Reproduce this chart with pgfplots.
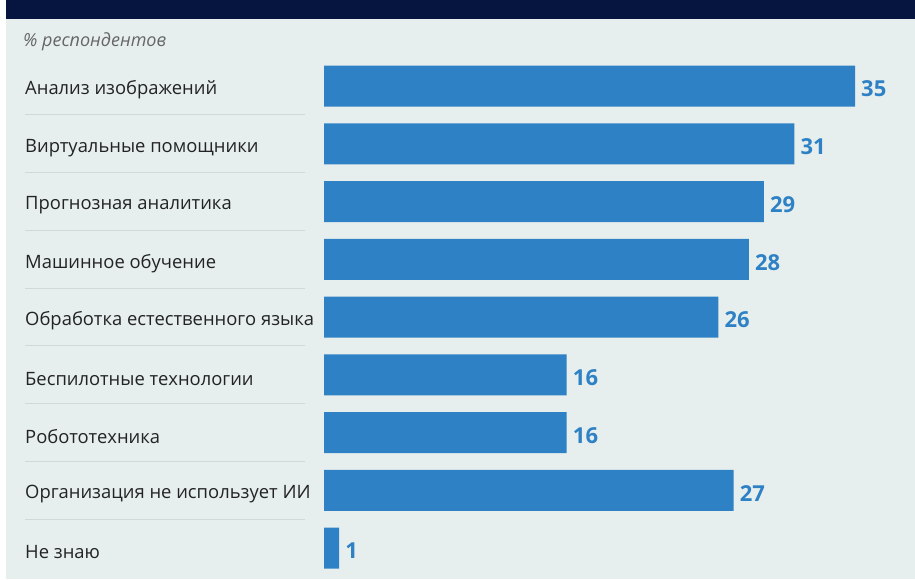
\documentclass[border=0pt]{standalone}
\usepackage{pgfplots}
\pgfplotsset{compat=1.18}
\usepackage{fontspec}
\setmainfont{Open Sans}
\definecolor{bg}{RGB}{230,239,238}
\definecolor{navy}{RGB}{6,20,64}
\definecolor{barblue}{RGB}{46,129,196}
\definecolor{sepc}{RGB}{208,216,216}
\definecolor{lblc}{RGB}{35,35,35}
\begin{document}
\begin{tikzpicture}
\path[use as bounding box, fill=white] (0pt,0pt) rectangle (915pt,579pt);
\fill[bg] (6pt,0pt) rectangle (915pt,560pt);
\fill[navy] (6pt,560pt) rectangle (915pt,579pt);
\node[anchor=west, font=\itshape\fontsize{18}{20}\selectfont, text=black!60, inner sep=0pt] at (23pt,537pt) {\% респондентов};
\foreach \i in {0,...,7} {
  \pgfmathsetmacro{\yy}{579-(86+57.75*(\i+0.5))}
  \draw[sepc, line width=0.8pt] (25pt,\yy pt) -- (305pt,\yy pt);
}
\begin{axis}[at={(324pt,2.1pt)}, anchor=south west, scale only axis,
  width=531pt, height=519.75pt,
  xmin=0, xmax=35, ymin=-0.5, ymax=8.5, y dir=reverse,
  xbar, bar width=41pt, bar shift=0pt,
  axis line style={draw=none}, xtick=\empty,
  ytick={0,...,8},
  yticklabels={Анализ изображений, Виртуальные помощники, Прогнозная аналитика, Машинное обучение, Обработка естественного языка, Беспилотные технологии, Робототехника, Организация не использует ИИ, Не знаю},
  major tick length=0pt,
  yticklabel style={anchor=west, xshift=-299pt, yshift=-4pt, inner sep=0pt, font=\fontsize{18.4}{22}\selectfont, text=lblc},
  /pgf/number format/assume math mode=true,
  nodes near coords,
  nodes near coords style={font=\bfseries\fontsize{22}{24}\selectfont, text=barblue, anchor=west, inner sep=0pt, xshift=6pt, yshift=-3pt},
  clip=false]
\addplot[fill=barblue, draw=none] coordinates {(35,0) (31,1) (29,2) (28,3) (26,4) (16,5) (16,6) (27,7) (1,8)};
\end{axis}
\end{tikzpicture}
\end{document}
